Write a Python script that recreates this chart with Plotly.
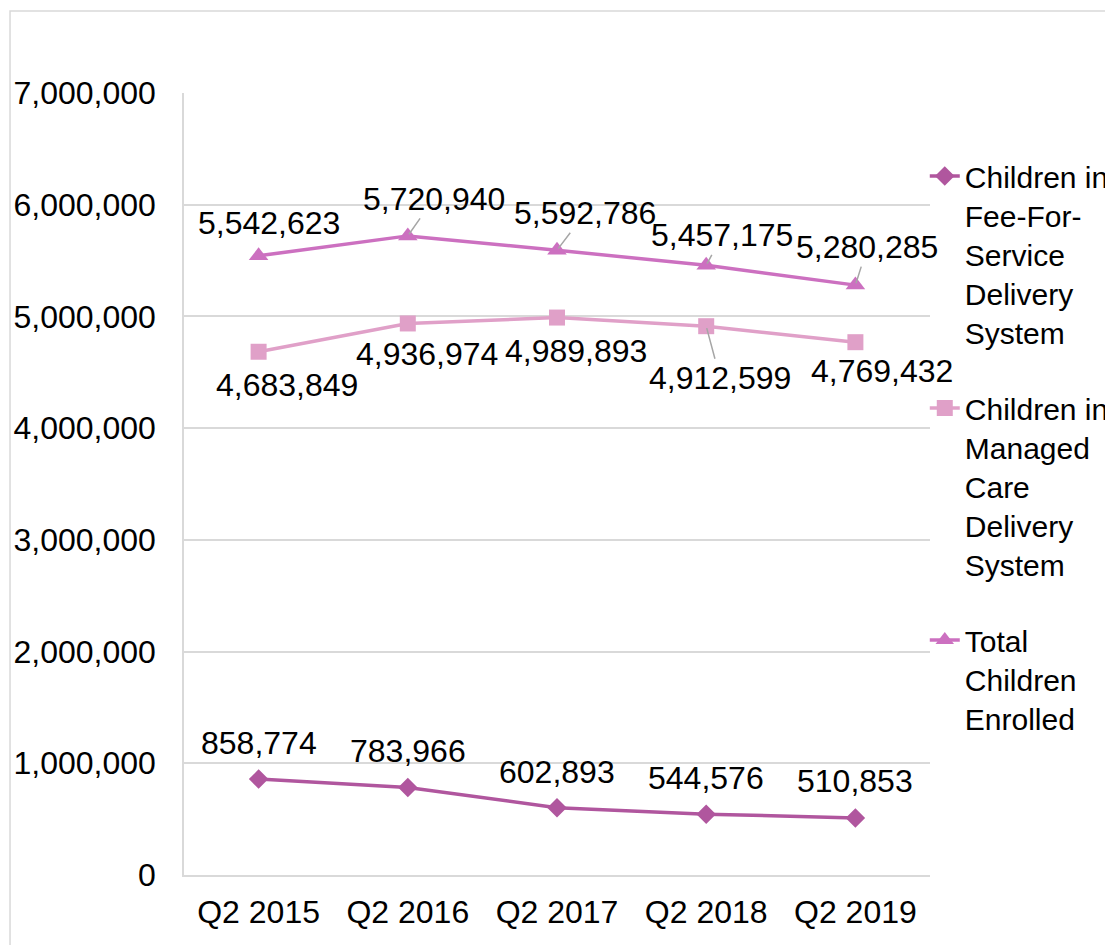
import plotly.graph_objects as go

categories = ["Q2 2015", "Q2 2016", "Q2 2017", "Q2 2018", "Q2 2019"]
ffs = [858774, 783966, 602893, 544576, 510853]
managed = [4683849, 4936974, 4989893, 4912599, 4769432]
total = [5542623, 5720940, 5592786, 5457175, 5280285]

names = [
    "Children in<br>Fee-For-<br>Service<br>Delivery<br>System",
    "Children in<br>Managed<br>Care<br>Delivery<br>System",
    "Total<br>Children<br>Enrolled",
]
colors = ["#B0569E", "#E0A0C8", "#CC70C0"]
symbols = ["diamond", "square", "triangle-up"]
sizes = [15, 16, 17]

FONT = "Liberation Sans, Arial, sans-serif"
FS = 32
LFS = 30

fig = go.Figure()
for i, vals in enumerate([ffs, managed, total]):
    fig.add_trace(go.Scatter(
        x=categories, y=vals, mode="lines+markers", name=names[i],
        legendgroup=f"g{i}",
        line=dict(color=colors[i], width=3.5),
        marker=dict(symbol=symbols[i], size=sizes[i], color=colors[i]),
    ))

# label offsets (pixels): (dx, dy, leader)
off_total = [(10, -33, False), (26, -37, True), (28, -37, True), (16, -30, True), (12, -38, True)]
off_managed = [(28, 33, False), (19, 31, False), (19, 33, False), (14, 52, True), (27, 29, False)]
off_ffs = [(0, -36, False), (0, -36, False), (0, -36, False), (0, -36, False), (0, -37, False)]

for vals, offs in [(total, off_total), (managed, off_managed), (ffs, off_ffs)]:
    for c, v, (dx, dy, leader) in zip(categories, vals, offs):
        if leader:
            fig.add_annotation(x=c, y=v, text=f"{v:,}", showarrow=True, arrowhead=0,
                               arrowwidth=1.5, arrowcolor="#A6A6A6", ax=dx, ay=dy,
                               standoff=2, font=dict(size=FS, color="#000000", family=FONT))
        else:
            fig.add_annotation(x=c, y=v, text=f"{v:,}", showarrow=False,
                               xshift=dx, yshift=-dy,
                               font=dict(size=FS, color="#000000", family=FONT))

# outer frame
fig.add_shape(type="rect", xref="paper", yref="paper",
              x0=-0.2332, x1=2.0, y0=-1.0, y1=1.1049,
              line=dict(color="#D9D9D9", width=1.5), fillcolor="rgba(0,0,0,0)", layer="below")

fig.update_layout(
    width=1113, height=945,
    margin=dict(l=176, r=191, t=85, b=78, autoexpand=False),
    paper_bgcolor="white", plot_bgcolor="white",
    font=dict(family=FONT, size=FS, color="#000000"),
    showlegend=True,
    legend=dict(x=0.993, y=0.927, xanchor="left", yanchor="top", valign="top",
                font=dict(size=LFS, family=FONT, color="#000000"),
                tracegroupgap=34, bgcolor="rgba(0,0,0,0)"),
    xaxis=dict(type="category", range=[-0.5, 4.5], showgrid=False, showline=True,
               linecolor="#D9D9D9", linewidth=1.5, ticks="", tickfont=dict(size=FS),
               ticklabelstandoff=8),
    yaxis=dict(range=[0, 7000000], dtick=1000000, tickformat=",", showgrid=True,
               gridcolor="#D9D9D9", gridwidth=1.5, showline=True, linecolor="#D9D9D9",
               linewidth=1.5, ticks="", zeroline=False, tickfont=dict(size=FS),
               ticklabelstandoff=20),
)

fig.write_html("out.html")
